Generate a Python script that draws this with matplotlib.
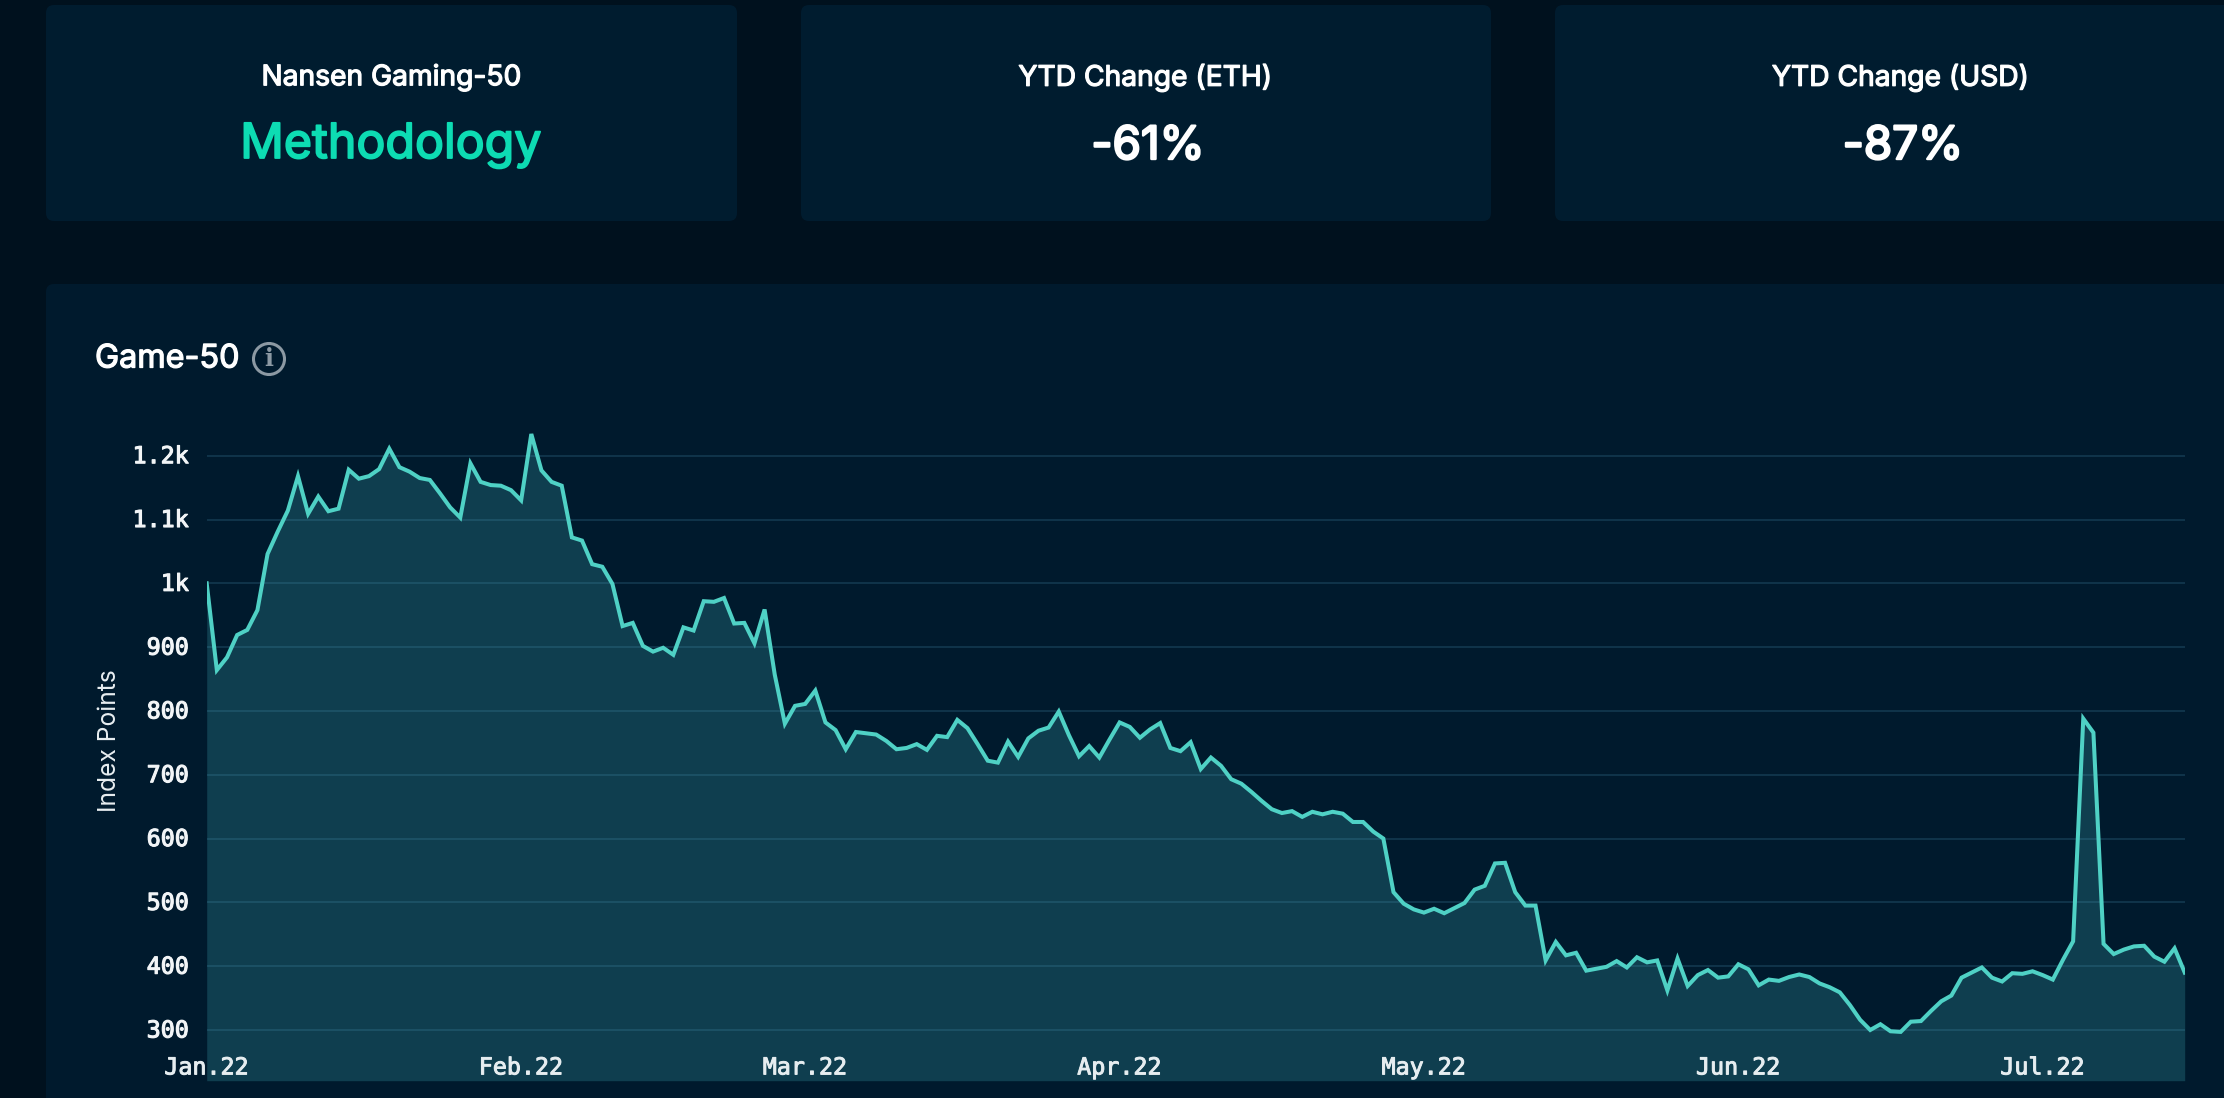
"""Nansen Gaming-50 dashboard: three stat cards and the Game-50 index chart"""

import matplotlib
matplotlib.use("Agg")
import matplotlib.pyplot as plt
import matplotlib.dates as mdates
import matplotlib.patheffects as pe
from matplotlib.patches import FancyBboxPatch, Circle
from matplotlib.transforms import ScaledTranslation
import pandas as pd

W, H = 2224, 1098

# daily index values, Jan 1 to Jul 15 2022
index_values = [
    1000, 864, 884, 919, 927, 958, 1046, 1081, 1114, 1168,
    1109, 1136, 1113, 1117, 1178, 1164, 1168, 1179, 1211, 1182,
    1175, 1165, 1162, 1141, 1119, 1103, 1188, 1159, 1154, 1153,
    1146, 1130, 1234, 1177, 1159, 1153, 1072, 1067, 1030, 1026,
    999, 933, 938, 902, 893, 899, 888, 931, 926, 972,
    971, 977, 937, 938, 906, 959, 857, 780, 808, 811,
    832, 782, 770, 740, 767, 765, 763, 753, 740, 742,
    748, 739, 761, 759, 786, 773, 748, 722, 719, 752,
    728, 757, 769, 774, 799, 762, 729, 745, 727, 755,
    782, 775, 758, 771, 781, 742, 737, 751, 709, 727,
    714, 693, 686, 673, 659, 646, 640, 643, 634, 642,
    638, 642, 639, 626, 626, 611, 600, 516, 498, 489,
    484, 490, 483, 491, 499, 520, 526, 561, 562, 516,
    495, 495, 409, 438, 417, 421, 393, 396, 399, 408,
    398, 414, 406, 409, 362, 412, 369, 386, 394, 382,
    384, 403, 395, 370, 379, 377, 383, 387, 383, 373,
    367, 359, 339, 316, 300, 309, 298, 297, 313, 314,
    330, 345, 354, 382, 390, 398, 382, 376, 389, 388,
    392, 386, 379, 410, 439, 788, 766, 435, 419, 426,
    431, 432, 415, 407, 428, 390,
]
start_date = "2022-01-01"

y_ticks = [300, 400, 500, 600, 700, 800, 900, 1000, 1100, 1200]
y_tick_labels = ["300", "400", "500", "600", "700", "800", "900", "1k", "1.1k", "1.2k"]
x_tick_dates = ["2022-01-01", "2022-02-01", "2022-03-01", "2022-04-01", "2022-05-01", "2022-06-01", "2022-07-01"]
x_tick_labels = ["Jan.22", "Feb.22", "Mar.22", "Apr.22", "May.22", "Jun.22", "Jul.22"]

PAGE = "#00111e"
CARD = "#001c2f"
MAIN = "#001a2d"
LINE = "#4fd1c5"
FILL = "#0f3e4f"
GRID = "#4fa0c0"
GREEN = "#0ddcb3"

plt.rcParams["font.family"] = ["Inter", "DejaVu Sans"]

fig = plt.figure(figsize=(W / 100, H / 100), dpi=100, facecolor=PAGE)

# background layer in pixel coordinates, cards and headings live here
bg = fig.add_axes([0, 0, 1, 1], zorder=0)
bg.set_xlim(0, W)
bg.set_ylim(H, 0)
bg.axis("off")


def card(x0, y0, x1, y1, color=CARD):
    bg.add_patch(FancyBboxPatch((x0 + 8, y0 + 8), x1 - x0 - 16, y1 - y0 - 16,
                                boxstyle="round,pad=8,rounding_size=8", fc=color, ec="none"))


def heavy(txt, width):
    # the Inter here only comes in one weight, thicken it with a stroke
    txt.set_path_effects([pe.withStroke(linewidth=width, foreground=txt.get_color())])


card(46, 5, 737, 221)
card(801, 5, 1491, 221)
card(1555, 5, 2260, 221)
card(46, 284, 2260, 1130, MAIN)

for x, y, label in [(391, 77.5, "Nansen Gaming-50"), (1145, 77.5, "YTD Change (ETH)"), (1900, 77.5, "YTD Change (USD)")]:
    t = bg.text(x, y, label, color="white", fontsize=20.3, ha="center", va="center")
    heavy(t, 0.9)

t = bg.text(391, 145, "Methodology", color=GREEN, fontsize=34.8, ha="center", va="center")
heavy(t, 1.3)
for x, label in [(1148, "-61%"), (1903, "-87%")]:
    t = bg.text(x, 147, label, color="white", fontsize=33, ha="center", va="center")
    heavy(t, 1.7)

t = bg.text(95, 359, "Game-50", color="white", fontsize=23.3, ha="left", va="center")
heavy(t, 0.9)
bg.add_patch(Circle((269, 359), 15.5, fc="none", ec="#8c99a3", lw=2.2))
bg.text(269, 359, "i", color="#8c99a3", fontsize=17, fontweight=600, ha="center", va="center",
        family=["DejaVu Serif"])

bg.text(109, 741, "Index Points", color="#e8eef1", fontsize=17.7, rotation=90, ha="center", va="center")

# chart axes, pixel box picked so the gridlines land where they do in the picture
left, right, top, bottom = 206.7, 2184.7, 430, 1080.7
ax = fig.add_axes([left / W, 1 - bottom / H, (right - left) / W, (bottom - top) / H], zorder=1)
ax.patch.set_alpha(0)

dates = pd.date_range(start_date, periods=len(index_values))
y_low = 300 - (bottom - 1030) / 0.638
y_high = 1200 + (455.7 - top) / 0.638

ax.fill_between(dates, index_values, y_low, color=FILL, lw=0, zorder=0.4)
ax.plot(dates, index_values, color=LINE, lw=2.9, solid_joinstyle="miter", zorder=2)

ax.set_xlim(dates[0], dates[-1])
ax.set_ylim(y_low, y_high)

ax.set_yticks(y_ticks)
ax.set_yticklabels(y_tick_labels, family=["DejaVu Sans Mono"], fontsize=16.8, color="#f2f5f7")
ax.set_xticks(mdates.date2num(pd.to_datetime(x_tick_dates)))
ax.set_xticklabels(x_tick_labels, family=["DejaVu Sans Mono"], fontsize=16.8, color="#e6edf0")
ax.tick_params(axis="y", length=0, pad=12.7)
ax.tick_params(axis="x", length=0, pad=-17.5)
nudge = ScaledTranslation(0, 1.5 / 100, fig.dpi_scale_trans)
for lab in ax.get_yticklabels():
    lab.set_transform(lab.get_transform() + nudge)
    heavy(lab, 0.8)
for lab in ax.get_xticklabels():
    lab.set_clip_on(False)
    heavy(lab, 0.7)

ax.set_axisbelow(True)
ax.grid(axis="y", color=GRID, alpha=0.25, lw=1.1)
ax.grid(axis="x", visible=False)
for s in ax.spines.values():
    s.set_visible(False)

fig.savefig("out.png", dpi=100, facecolor=PAGE)
